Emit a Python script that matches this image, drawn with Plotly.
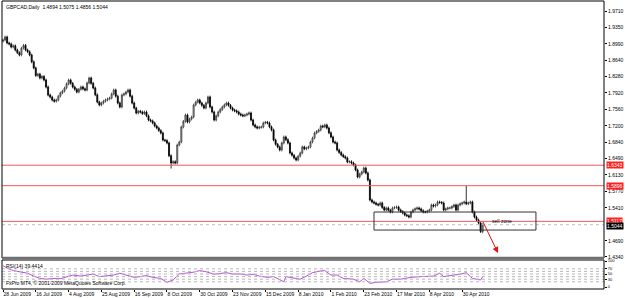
import plotly.graph_objects as go

# ---------------- data ----------------
closes = [
    1.9077, 1.9142, 1.9011, 1.8990, 1.8924, 1.8950, 1.8858, 1.8800, 1.8750, 1.8900,
    1.8960, 1.8858, 1.8820, 1.8749, 1.8600, 1.8466, 1.8300, 1.8330, 1.8247, 1.8280,
    1.8203, 1.8051, 1.7876, 1.7830, 1.7767, 1.7740, 1.7767, 1.7850, 1.7920, 1.7960,
    1.8029, 1.8120, 1.8203, 1.8130, 1.8051, 1.8000, 1.7941, 1.8000, 1.8051, 1.8010,
    1.7985, 1.8138, 1.8247, 1.8130, 1.8029, 1.7880, 1.7723, 1.7658, 1.7700, 1.7740,
    1.7767, 1.7790, 1.7810, 1.7900, 1.7985, 1.7850, 1.7701, 1.7614, 1.7876, 1.7900,
    1.7941, 1.7985, 1.7850, 1.7701, 1.7590, 1.7483, 1.7520, 1.7505, 1.7470, 1.7505,
    1.7420, 1.7330, 1.7310, 1.7265, 1.7200, 1.7155, 1.7100, 1.7046, 1.6893, 1.6880,
    1.6828, 1.6550, 1.6391, 1.6420, 1.6391, 1.6784, 1.6850, 1.7177, 1.7300, 1.7439,
    1.7286, 1.7350, 1.7396, 1.7658, 1.7720, 1.7767, 1.7701, 1.7650, 1.7592, 1.7701,
    1.7832, 1.7614, 1.7505, 1.7330, 1.7420, 1.7505, 1.7560, 1.7614, 1.7660, 1.7701,
    1.7650, 1.7592, 1.7548, 1.7530, 1.7505, 1.7460, 1.7439, 1.7420, 1.7439, 1.7460,
    1.7483, 1.7330, 1.7221, 1.7180, 1.7155, 1.7170, 1.7177, 1.7265, 1.7280, 1.7265,
    1.7180, 1.7112, 1.6893, 1.6800, 1.6741, 1.6675, 1.6828, 1.6959, 1.6900, 1.6828,
    1.6610, 1.6560, 1.6500, 1.6457, 1.6540, 1.6610, 1.6741, 1.6700, 1.6719, 1.6741,
    1.6850, 1.6937, 1.7046, 1.7080, 1.7112, 1.7199, 1.7180, 1.7221, 1.7155, 1.7050,
    1.6959, 1.6850, 1.6828, 1.6675, 1.6620, 1.6566, 1.6530, 1.6500, 1.6413, 1.6420,
    1.6391, 1.6347, 1.6238, 1.6085, 1.6150, 1.6195, 1.6282, 1.6173, 1.6020, 1.5583,
    1.5540, 1.5518, 1.5490, 1.5474, 1.5518, 1.5420, 1.5365, 1.5409, 1.5360, 1.5321,
    1.5409, 1.5420, 1.5431, 1.5365, 1.5330, 1.5300, 1.5256, 1.5240, 1.5212, 1.5321,
    1.5365, 1.5390, 1.5409, 1.5387, 1.5350, 1.5321, 1.5321, 1.5340, 1.5365, 1.5474,
    1.5450, 1.5474, 1.5540, 1.5530, 1.5518, 1.5365, 1.5390, 1.5409, 1.5409, 1.5440,
    1.5474, 1.5365, 1.5474, 1.5500, 1.5518, 1.5540, 1.5500, 1.5518, 1.5540, 1.5321,
    1.5212, 1.5147, 1.5081, 1.4894, 1.5044,
]
first_open = 1.9050
high_overrides = {226: 1.5896, 234: 1.5075}
low_overrides = {82: 1.6270, 234: 1.4856}

rsi_bar = [0, 2, 5, 8, 12, 15, 18, 21, 25, 28, 31, 34, 38, 41, 44, 47, 51, 54, 57, 60,
           64, 67, 70, 73, 77, 80, 83, 86, 90, 93, 96, 99, 103, 106, 109, 112, 116, 119, 122, 125,
           129, 132, 135, 137, 138, 142, 145, 148, 151, 155, 157, 160, 163, 166, 171, 174, 176, 179, 182, 187,
           190, 194, 199, 204, 210, 213, 215, 220, 223, 226, 229, 233, 234]
rsi_vals = [82, 73, 63, 59, 53, 42, 33, 30, 33, 32, 40, 46, 42, 46, 50, 40, 42, 46, 53, 46,
            37, 40, 44, 37, 33, 18, 27, 50, 53, 57, 63, 59, 49, 53, 55, 50, 50, 46, 49, 42,
            37, 40, 27, 20, 40, 33, 30, 42, 55, 62, 63, 46, 46, 33, 30, 20, 33, 14, 18, 20,
            30, 30, 37, 40, 42, 53, 40, 46, 49, 55, 33, 27, 39.44]
rsi_levels = [70, 60, 50, 40, 30, 20]
rsi_tick_vals = [100, 70, 50, 30, 0]

red_lines = [1.6343, 1.5896, 1.5117]
bid_price = 1.5044

date_bars = [0, 16, 32, 48, 64, 80, 96, 112, 128, 144, 160, 176, 192, 208, 224]
date_labels = ["28 Jun 2009", "16 Jul 2009", "4 Aug 2009", "25 Aug 2009", "16 Sep 2009",
               "8 Oct 2009", "30 Oct 2009", "23 Nov 2009", "15 Dec 2009", "8 Jan 2010",
               "1 Feb 2010", "23 Feb 2010", "17 Mar 2010", "8 Apr 2010", "30 Apr 2010"]

price_ticks = [1.9710, 1.9350, 1.8990, 1.8640, 1.8280, 1.7920, 1.7560, 1.7200, 1.6840,
               1.6490, 1.6130, 1.5770, 1.5410, 1.4690, 1.4340]

sell_zone = dict(x0=181, x1=260, y0=1.4927, y1=1.5321)
arrow = dict(x0=233.7, y0=1.5147, x1=241.5, y1=1.4426)

title_text = "GBPCAD,Daily  1.4894 1.5075 1.4856 1.5044"
rsi_text = "RSI(14) 39.4414"
copy_text = "FxPro MT4, © 2001-2009 MetaQuotes Software Corp."

# ---------------- derived OHLC ----------------
n = len(closes)
bars = list(range(n))
opens = [first_open] + closes[:-1]
wick = 0.003
highs = [max(o, c) + wick for o, c in zip(opens, closes)]
lows = [min(o, c) - wick for o, c in zip(opens, closes)]
for k, v in high_overrides.items():
    highs[k] = v
for k, v in low_overrides.items():
    lows[k] = v

FONT = "Liberation Sans"
FS = 5

fig = go.Figure()
fig.add_trace(go.Candlestick(
    x=bars, open=opens, high=highs, low=lows, close=closes,
    increasing=dict(line=dict(color="#383838", width=0.8), fillcolor="#b8b8b8"),
    decreasing=dict(line=dict(color="#000000", width=0.8), fillcolor="#000000"),
    whiskerwidth=0, xaxis="x", yaxis="y", showlegend=False, hoverinfo="skip",
))
fig.add_trace(go.Scatter(
    x=rsi_bar, y=rsi_vals, mode="lines", line=dict(color="#B44FD8", width=1),
    xaxis="x", yaxis="y2", showlegend=False, hoverinfo="skip",
))

shapes = []
for p in red_lines:
    shapes.append(dict(type="line", xref="paper", x0=0, x1=1, yref="y", y0=p, y1=p,
                       line=dict(color="#F05A5A", width=1)))
shapes.append(dict(type="line", xref="paper", x0=0, x1=1, yref="y", y0=bid_price, y1=bid_price,
                   line=dict(color="#c0c0c0", width=1, dash="dot")))
shapes.append(dict(type="rect", xref="x", yref="y", x0=sell_zone["x0"], x1=sell_zone["x1"],
                   y0=sell_zone["y0"], y1=sell_zone["y1"], line=dict(color="#333333", width=1)))
for lv in rsi_levels:
    shapes.append(dict(type="line", xref="paper", x0=0, x1=1, yref="y2", y0=lv, y1=lv,
                       line=dict(color="#b8b8b8", width=1, dash="dot")))
shapes.append(dict(type="rect", xref="paper", yref="y domain", x0=0, x1=1, y0=0, y1=1,
                   line=dict(color="#000000", width=1)))
shapes.append(dict(type="rect", xref="paper", yref="y2 domain", x0=0, x1=1, y0=0, y1=1,
                   line=dict(color="#000000", width=1)))
shapes.append(dict(type="line", xref="paper", yref="y domain", x0=0, x1=1, y0=0, y1=0,
                   line=dict(color="#707070", width=2.5)))

annotations = []
annotations.append(dict(xref="paper", yref="paper", x=0.004, y=0.996, xanchor="left", yanchor="top",
                        text=title_text, showarrow=False, font=dict(family=FONT, size=FS, color="#000")))
annotations.append(dict(xref="paper", yref="y2 domain", x=0.004, y=0.97, xanchor="left", yanchor="top",
                        text=rsi_text, showarrow=False, font=dict(family=FONT, size=FS, color="#000")))
annotations.append(dict(xref="paper", yref="y2 domain", x=0.003, y=0.02, xanchor="left", yanchor="bottom",
                        text=copy_text, showarrow=False, font=dict(family=FONT, size=FS, color="#000")))
annotations.append(dict(xref="x", yref="y", x=237.5, y=1.5117, xanchor="left", yanchor="middle",
                        text="sell zone", showarrow=False, font=dict(family=FONT, size=5, color="#000")))
for p in red_lines:
    annotations.append(dict(xref="paper", yref="y", x=1.003, y=p, xanchor="left", yanchor="middle",
                            text=f"{p:.4f}", showarrow=False, bgcolor="#FF2020", borderpad=0,
                            font=dict(family=FONT, size=FS, color="#ffffff")))
annotations.append(dict(xref="paper", yref="y", x=1.003, y=bid_price, xanchor="left", yanchor="middle",
                        text=f"{bid_price:.4f}", showarrow=False, bgcolor="#000000", borderpad=0,
                        yshift=-1,
                        font=dict(family=FONT, size=FS, color="#ffffff")))
annotations.append(dict(xref="x", yref="y", axref="x", ayref="y",
                        x=arrow["x1"], y=arrow["y1"], ax=arrow["x0"], ay=arrow["y0"],
                        text="", showarrow=True, arrowhead=2, arrowsize=1.2, arrowwidth=1,
                        arrowcolor="#E81010"))

H = 288.0
fig.update_layout(
    width=625, height=298,
    margin=dict(l=2, r=21, t=1, b=9),
    paper_bgcolor="#ffffff", plot_bgcolor="#ffffff",
    template="none",
    shapes=shapes, annotations=annotations,
    xaxis=dict(range=[-0.49, 293.2], anchor="y2", showgrid=False, zeroline=False,
               rangeslider=dict(visible=False), automargin=False,
               tickmode="array", tickvals=date_bars, ticktext=date_labels, tickangle=0,
               ticks="outside", ticklen=2, tickcolor="#000", ticklabelposition="outside right",
               tickfont=dict(family=FONT, size=FS, color="#000"), showline=False),
    yaxis=dict(domain=[(289 - 258) / H, 1.0], range=[1.43170, 1.99283], side="right",
               showgrid=False, zeroline=False, automargin=False,
               tickmode="array", tickvals=price_ticks, ticktext=[f"{v:.4f}" for v in price_ticks],
               ticks="outside", ticklen=2, tickcolor="#000",
               tickfont=dict(family=FONT, size=FS, color="#000")),
    yaxis2=dict(domain=[0.0, (289 - 260) / H], range=[-7.69, 103.85], side="right",
                showgrid=False, zeroline=False, automargin=False,
                tickmode="array", tickvals=rsi_tick_vals, ticktext=[str(v) for v in rsi_tick_vals],
                ticks="outside", ticklen=2, tickcolor="#000",
                tickfont=dict(family=FONT, size=4, color="#000")),
)

fig.write_html("out.html")
